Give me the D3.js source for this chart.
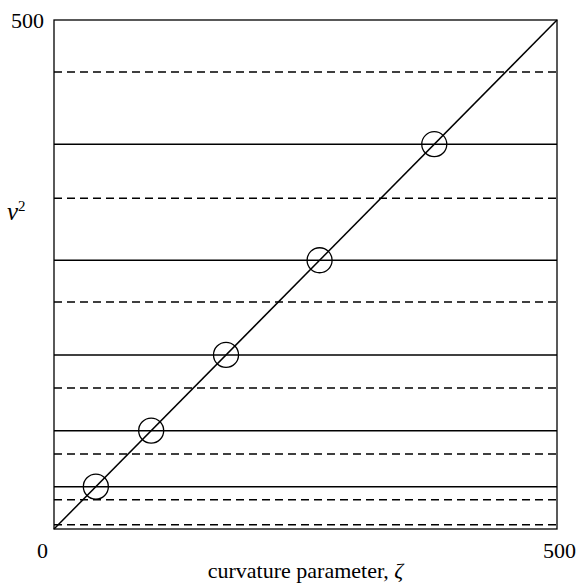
<!DOCTYPE html>
<html>
<head>
<meta charset="utf-8">
<script src="https://cdn.jsdelivr.net/npm/d3@7"></script>
<style>
  body { margin: 0; background: #fff; }
  svg { display: block; }
  text { font-family: "Liberation Serif", "Times New Roman", serif; fill: #000; }
  .frame { fill: none; stroke: #000; stroke-width: 1.3; }
  .solid { stroke: #000; stroke-width: 1.5; }
  .dashed { stroke: #000; stroke-width: 1.5; stroke-dasharray: 8,5; }
  .diag { stroke: #000; stroke-width: 1.5; fill: none; }
  .ring { fill: none; stroke: #000; stroke-width: 1.3; }
</style>
</head>
<body>
<script>
// levels (nu^2 values)
const solidLevels = [41.6, 96.6, 171, 264, 378];
const dashedLevels = [4.2, 28.8, 73.7, 138.5, 223, 325, 449];
const diagonal = [[0, 0], [500, 500]]; // zeta = nu^2
const xTicks = [0, 500];
const yTicks = [500];

const w = 578, h = 588;
const mLeft = 54, mRight = 557, mTop = 20, mBottom = 529; // plot frame edges

const x = d3.scaleLinear().domain([0, 500]).range([mLeft, mRight]);
const y = d3.scaleLinear().domain([0, 500]).range([mBottom, mTop]);

const svg = d3.select("body").append("svg")
  .attr("width", w)
  .attr("height", h);

// horizontal level lines
svg.selectAll(".dashed")
  .data(dashedLevels)
  .enter()
  .append("line")
  .attr("class", "dashed")
  .attr("x1", x(0)).attr("x2", x(500))
  .attr("y1", d => y(d)).attr("y2", d => y(d));

svg.selectAll(".solid")
  .data(solidLevels)
  .enter()
  .append("line")
  .attr("class", "solid")
  .attr("x1", x(0)).attr("x2", x(500))
  .attr("y1", d => y(d)).attr("y2", d => y(d));

// diagonal
svg.append("path")
  .datum(diagonal)
  .attr("class", "diag")
  .attr("d", d3.line().x(d => x(d[0])).y(d => y(d[1])));

// circles where solid lines cross the diagonal
svg.selectAll(".ring")
  .data(solidLevels)
  .enter()
  .append("circle")
  .attr("class", "ring")
  .attr("cx", d => x(d))
  .attr("cy", d => y(d))
  .attr("r", 12.5);

// frame
svg.append("rect")
  .attr("class", "frame")
  .attr("x", mLeft).attr("y", mTop)
  .attr("width", mRight - mLeft).attr("height", mBottom - mTop);

// axes (labels only)
const xAxis = svg.append("g")
  .attr("transform", "translate(0," + mBottom + ")")
  .call(d3.axisBottom(x).tickValues(xTicks).tickSize(0).tickPadding(13).tickFormat(d3.format("d")));
const yAxis = svg.append("g")
  .attr("transform", "translate(" + mLeft + ",0)")
  .call(d3.axisLeft(y).tickValues(yTicks).tickSize(0).tickPadding(10).tickFormat(d3.format("d")));

[xAxis, yAxis].forEach(g => {
  g.select(".domain").remove();
  g.selectAll("text").attr("font-size", 22).attr("font-family", "Liberation Serif");
});
xAxis.selectAll(".tick text").attr("dx", d => d === 0 ? -12 : 2);

// axis titles
const xt = svg.append("text")
  .attr("x", (mLeft + mRight) / 2)
  .attr("y", 578)
  .attr("text-anchor", "middle")
  .attr("font-size", 22);
xt.append("tspan").text("curvature parameter, ");
xt.append("tspan").attr("font-style", "italic").text("ζ");

const yt = svg.append("text")
  .attr("x", 7)
  .attr("y", 220)
  .attr("font-size", 25);
yt.append("tspan").attr("font-style", "italic").text("ν");
yt.append("tspan").attr("font-size", 15).attr("dy", -9).text("2");
</script>
</body>
</html>
